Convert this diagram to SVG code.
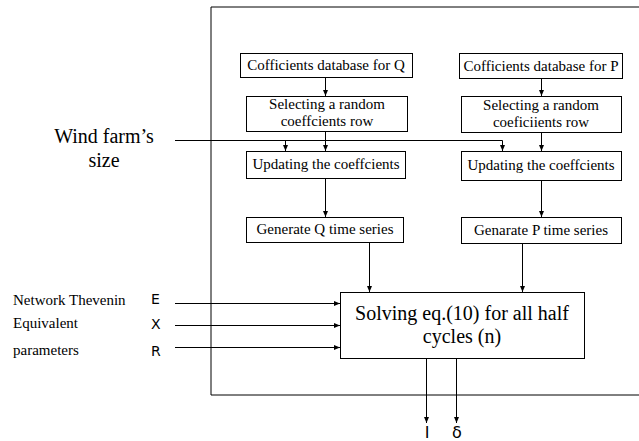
<svg xmlns="http://www.w3.org/2000/svg" width="639" height="441" viewBox="0 0 639 441">
<style>
.box{fill:#fff;stroke:#000;stroke-width:1}
.t{font-family:'Liberation Serif','DejaVu Serif',serif;font-size:15px;fill:#000;text-anchor:middle}
.tl{font-family:'Liberation Serif','DejaVu Serif',serif;font-size:15px;fill:#000}
.big{font-family:'Liberation Serif','DejaVu Serif',serif;font-size:20px;fill:#000;text-anchor:middle}
.s{font-family:'DejaVu Sans','Liberation Sans',sans-serif;font-size:14px;fill:#000}
.c{fill:none;stroke:#000;stroke-width:1}
</style>
<defs>
<marker id="ah" markerWidth="6" markerHeight="6" refX="6" refY="3" orient="auto" markerUnits="userSpaceOnUse">
<path d="M0,0.5 L6,3 L0,5.5 Z" fill="#000"/>
</marker>
</defs>
<rect x="0" y="0" width="639" height="441" fill="#fff"/>
<path d="M639,7 H211 V395 H639" fill="none" stroke="#000" stroke-width="1"/>
<g id="windLabel">
<text class="big" x="104" y="143">Wind farm’s</text>
<text class="big" x="104" y="167">size</text>
</g>
<g id="netLabel">
<text class="tl" x="13" y="305">Network Thevenin</text>
<text class="tl" x="13" y="328">Equivalent</text>
<text class="tl" x="13" y="355">parameters</text>
<text class="s" x="151" y="304">E</text>
<text class="s" x="151" y="329">X</text>
<text class="s" x="151" y="356">R</text>
</g>
<g id="dbQ"><rect class="box" x="240.5" y="53.5" width="172" height="24"/><text class="t" x="326" y="70">Cofficients database for Q</text></g>
<g id="selQ"><rect class="box" x="246.5" y="96.5" width="161" height="35"/><text class="t" x="327" y="109">Selecting a random</text><text class="t" x="327" y="126">coeffcients row</text></g>
<g id="updQ"><rect class="box" x="246.5" y="151.5" width="159" height="27"/><text class="t" x="326" y="169">Updating the coeffcients</text></g>
<g id="genQ"><rect class="box" x="246.5" y="217.5" width="157" height="25"/><text class="t" x="325" y="234">Generate Q time series</text></g>
<g id="dbP"><rect class="box" x="459.5" y="53.5" width="163" height="25"/><text class="t" x="541" y="71">Cofficients database for P</text></g>
<g id="selP"><rect class="box" x="461.5" y="96.5" width="160" height="36"/><text class="t" x="541" y="110">Selecting a random</text><text class="t" x="541" y="127">coeficiients row</text></g>
<g id="updP"><rect class="box" x="461.5" y="151.5" width="160" height="29"/><text class="t" x="541" y="170">Updating the coeffcients</text></g>
<g id="genP"><rect class="box" x="461.5" y="217.5" width="160" height="26"/><text class="t" x="541" y="235">Genarate P time series</text></g>
<g id="solve"><rect class="box" x="340.5" y="292.5" width="244" height="66"/><text class="big" x="462" y="320">Solving eq.(10) for all half</text><text class="big" x="462" y="343">cycles (n)</text></g>
<g id="outputs">
<text class="s" x="427" y="438" style="font-size:16px" text-anchor="middle">I</text>
<text class="s" x="457" y="438" style="font-size:16px" text-anchor="middle">δ</text>
</g>
<g id="connectors">
<line class="c" x1="325.5" y1="78" x2="325.5" y2="96" marker-end="url(#ah)"/>
<line class="c" x1="541.5" y1="79" x2="541.5" y2="96" marker-end="url(#ah)"/>
<line class="c" x1="325.5" y1="132" x2="325.5" y2="151" marker-end="url(#ah)"/>
<line class="c" x1="541.5" y1="133" x2="541.5" y2="151" marker-end="url(#ah)"/>
<path class="c" d="M175,140.5 H502.5 V151" marker-end="url(#ah)"/>
<line class="c" x1="285.5" y1="140" x2="285.5" y2="151" marker-end="url(#ah)"/>
<line class="c" x1="325.5" y1="179" x2="325.5" y2="217" marker-end="url(#ah)"/>
<line class="c" x1="541.5" y1="181" x2="541.5" y2="217" marker-end="url(#ah)"/>
<line class="c" x1="369.5" y1="243" x2="369.5" y2="292" marker-end="url(#ah)"/>
<line class="c" x1="522.5" y1="244" x2="522.5" y2="292" marker-end="url(#ah)"/>
<line class="c" x1="175" y1="303.5" x2="340" y2="303.5" marker-end="url(#ah)"/>
<line class="c" x1="175" y1="325.5" x2="340" y2="325.5" marker-end="url(#ah)"/>
<line class="c" x1="175" y1="347.5" x2="340" y2="347.5" marker-end="url(#ah)"/>
<line class="c" x1="426.5" y1="359" x2="426.5" y2="423" marker-end="url(#ah)"/>
<line class="c" x1="456.5" y1="359" x2="456.5" y2="423" marker-end="url(#ah)"/>
</g>
</svg>
